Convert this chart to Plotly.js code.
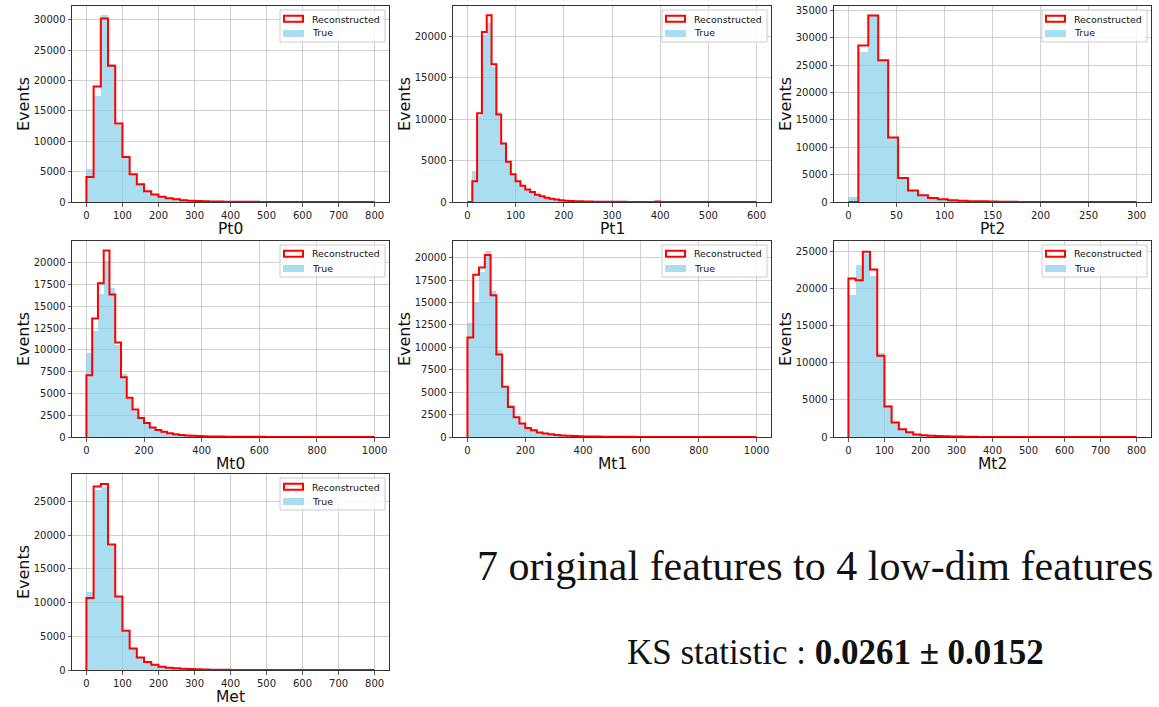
<!DOCTYPE html>
<html>
<head>
<meta charset="utf-8">
<script src="https://cdn.plot.ly/plotly-3.0.1.min.js"></script>
<style>
  html, body { margin: 0; padding: 0; background: #ffffff; }
  #chart { width: 1159px; height: 707px; }
</style>
</head>
<body>
<div id="chart"></div>
<script>
// Feature names (one histogram panel each)
const features = ['Pt0', 'Pt1', 'Pt2', 'Mt0', 'Mt1', 'Mt2', 'Met'];

// Histogram binning per feature: first edge and bin width
const binStart = [0, 0, 0, 0, 0, 0, 0];
const binWidth = [20, 10, 300 / 29, 20, 20, 20, 20];

// Event counts per bin: reconstructed vs. true
const recoPt0 = [4100, 19000, 30200, 22400, 12900, 7400, 4550, 2900, 1750, 1250, 880, 620, 440, 300, 220, 160, 120, 90, 70, 55, 45, 35, 28, 22, 16, 12, 0, 0, 0, 0, 0, 0, 0, 0, 0, 0, 0, 0, 0, 0];
const truePt0 = [5450, 17500, 30800, 22750, 12700, 7250, 4400, 2800, 1800, 1200, 850, 600, 430, 300, 210, 150, 110, 85, 65, 50, 40, 30, 25, 18, 14, 10, 8, 6, 5, 4, 3, 3, 2, 2, 1, 1, 1, 0, 0, 0];

const recoPt1 = [0, 2500, 10700, 20500, 22500, 16600, 10550, 7050, 4850, 3350, 2500, 1950, 1500, 1200, 880, 680, 520, 400, 290, 210, 160, 120, 100, 80, 65, 50, 40, 35, 30, 25, 22, 20, 18, 15, 12, 10, 0, 0, 0, 60, 0, 0, 0, 0, 0, 0, 0, 0, 0, 0, 0, 0, 0, 0, 0, 0, 0, 0, 0, 0];
const truePt1 = [0, 3700, 10400, 20100, 21600, 16300, 10850, 7000, 4800, 3300, 2450, 1900, 1450, 1150, 850, 650, 500, 380, 280, 210, 160, 120, 95, 75, 60, 48, 40, 34, 28, 24, 20, 18, 15, 13, 11, 9, 8, 7, 6, 5, 5, 4, 4, 3, 3, 3, 2, 2, 2, 2, 1, 1, 1, 1, 1, 1, 0, 0, 0, 0];

const recoPt2 = [0, 28600, 34100, 25900, 11800, 4400, 2100, 1250, 750, 500, 300, 220, 160, 120, 90, 60, 40, 0, 0, 0, 0, 0, 0, 0, 0, 0, 0, 0, 0];
const truePt2 = [900, 27500, 34000, 25800, 11700, 4300, 2000, 1150, 700, 450, 290, 210, 150, 110, 80, 60, 45, 35, 28, 22, 18, 14, 11, 9, 7, 5, 4, 3, 2];

const recoMt0 = [7080, 13600, 17650, 21400, 16350, 10850, 6850, 4500, 3150, 2180, 1600, 1100, 800, 600, 420, 320, 220, 170, 140, 120, 90, 60, 50, 45, 40, 35, 30, 28, 25, 22, 20, 0, 0, 0, 0, 0, 0, 0, 0, 0, 0, 0, 0, 0, 0, 0, 0, 0, 0, 0];
const trueMt0 = [9650, 12150, 16400, 20150, 17050, 10600, 7200, 4350, 3000, 2100, 1550, 1080, 780, 580, 410, 310, 220, 170, 135, 110, 85, 60, 50, 42, 36, 30, 26, 22, 19, 16, 14, 12, 10, 9, 8, 7, 6, 5, 5, 4, 4, 3, 3, 2, 2, 2, 1, 1, 1, 1];

const recoMt1 = [11100, 18100, 18900, 20300, 15800, 9200, 5600, 3350, 2200, 1500, 1000, 740, 490, 380, 300, 230, 180, 150, 110, 85, 65, 55, 48, 40, 35, 30, 26, 22, 20, 0, 0, 0, 0, 0, 0, 0, 0, 0, 0, 0, 0, 0, 0, 0, 0, 0, 0, 0, 0, 0];
const trueMt1 = [12700, 15100, 18450, 20800, 16300, 9750, 5500, 3570, 2150, 1450, 1050, 720, 480, 370, 290, 220, 170, 140, 105, 80, 62, 52, 44, 38, 32, 27, 23, 20, 17, 15, 13, 11, 10, 9, 8, 7, 6, 5, 5, 4, 4, 3, 3, 2, 2, 2, 1, 1, 1, 1];

const recoMt2 = [21350, 21100, 24950, 22550, 10950, 4100, 1950, 1050, 630, 320, 230, 180, 130, 100, 80, 60, 40, 25, 0, 0, 0, 0, 0, 0, 0, 0, 0, 0, 0, 0, 0, 0, 0, 0, 0, 0, 0, 0, 0, 0];
const trueMt2 = [19100, 23200, 24700, 21650, 11350, 4350, 1850, 1000, 600, 340, 240, 170, 125, 95, 75, 55, 42, 32, 25, 20, 16, 13, 10, 8, 7, 6, 5, 4, 3, 3, 2, 2, 2, 1, 1, 1, 1, 0, 0, 0];

const recoMet = [10650, 27200, 27550, 18600, 10900, 5800, 3200, 1870, 1180, 790, 490, 350, 250, 180, 130, 100, 70, 50, 35, 25, 18, 0, 0, 0, 0, 0, 0, 0, 0, 0, 0, 0, 0, 0, 0, 0, 0, 0, 0, 0];
const trueMet = [11550, 26700, 27100, 18400, 10800, 5600, 3100, 1800, 1150, 760, 480, 340, 240, 170, 125, 95, 68, 50, 36, 26, 19, 14, 11, 9, 7, 6, 5, 4, 3, 3, 2, 2, 2, 1, 1, 1, 1, 0, 0, 0];

const recoCounts = [recoPt0, recoPt1, recoPt2, recoMt0, recoMt1, recoMt2, recoMet];
const trueCounts = [truePt0, truePt1, truePt2, trueMt0, trueMt1, trueMt2, trueMet];

// Axis tick spacing per panel
const xTickStep = [100, 100, 50, 200, 200, 100, 100];
const yTickStep = [5000, 5000, 5000, 2500, 2500, 5000, 5000];

// Legend labels and side text
const recoName = 'Reconstructed';
const trueName = 'True';
const yTitle = 'Events';
const headline = '7 original features to 4 low-dim features';
const ksLabel = 'KS statistic : ';
const ksValue = '0.0261 ± 0.0152';

// ---- Layout geometry (pixels in a 1159 x 707 figure) ----
const W = 1159, H = 707;
const colPx = [[72, 389], [453, 771], [834, 1151]];
const rowPx = [[6, 202], [241, 437], [474, 670]];
const cellOf = [[0, 0], [0, 1], [0, 2], [1, 0], [1, 1], [1, 2], [2, 0]];
const xRanges = [[-40, 840], [-30, 630], [-15, 315], [-50, 1050], [-50, 1050], [-40, 840], [-40, 840]];
const yTops = [32240, 23620, 35840, 22490, 21860, 26390, 29040];

const trueFill = 'rgba(135,206,235,0.7)';
const recoLine = '#ff0000';

const px = v => v / W;          // pixel column -> paper x
const py = v => 1 - v / H;      // pixel row -> paper y

const traces = [];
const shapes = [];
const annotations = [];

const layout = {
  width: W,
  height: H,
  margin: { l: 0, r: 0, t: 0, b: 0 },
  paper_bgcolor: '#ffffff',
  plot_bgcolor: '#ffffff',
  font: { family: 'DejaVu Sans', color: '#222222' },
  barmode: 'overlay',
  bargap: 0,
  showlegend: false,
  shapes: shapes,
  annotations: annotations
};

features.forEach((name, i) => {
  const n = i + 1;
  const sfx = n === 1 ? '' : String(n);
  const xa = 'x' + sfx, ya = 'y' + sfx;
  const [r, c] = cellOf[i];

  const counts = recoCounts[i];
  const truth = trueCounts[i];
  const w = binWidth[i];
  const edges = [];
  for (let k = 0; k <= counts.length; k++) edges.push(binStart[i] + k * w);
  const centers = edges.slice(0, -1).map(e => e + w / 2);

  // true distribution: filled bars
  traces.push({
    type: 'bar', x: centers, y: truth, width: w, name: trueName,
    xaxis: xa, yaxis: ya,
    marker: { color: trueFill, line: { width: 0 } }
  });

  // reconstructed distribution: step outline
  traces.push({
    type: 'scatter', mode: 'lines',
    x: [edges[0]].concat(edges),
    y: [0].concat(counts, [0]),
    line: { shape: 'hv', color: recoLine, width: 2 },
    xaxis: xa, yaxis: ya, name: recoName
  });

  const common = {
    showgrid: true, gridcolor: '#c6c6c6', gridwidth: 0.8,
    showline: true, mirror: true, linecolor: '#333333', linewidth: 1,
    ticks: 'outside', ticklen: 3.5, tickwidth: 0.8, tickcolor: '#333333',
    tickfont: { size: 10, color: '#222222', family: 'DejaVu Sans' },
    zeroline: false, tickmode: 'linear', tick0: 0, tickformat: 'd',
    fixedrange: true
  };

  layout['xaxis' + sfx] = Object.assign({}, common, {
    domain: [px(colPx[c][0]), px(colPx[c][1])],
    range: xRanges[i],
    dtick: xTickStep[i],
    anchor: ya
  });
  layout['yaxis' + sfx] = Object.assign({}, common, {
    domain: [py(rowPx[r][1]), py(rowPx[r][0])],
    range: [0, yTops[i]],
    dtick: yTickStep[i],
    anchor: xa,
    title: { text: yTitle, font: { size: 16, color: '#111111', family: 'DejaVu Sans' }, standoff: 0 }
  });

  // feature name under the panel, kept inside the figure's lower edge
  const titleMid = Math.min(rowPx[r][1] + 27, H - 9.5);
  annotations.push({
    text: name, xref: 'paper', yref: 'paper',
    x: px((colPx[c][0] + colPx[c][1]) / 2), y: py(titleMid),
    xanchor: 'center', yanchor: 'middle', borderpad: 0,
    showarrow: false, font: { size: 15.5, color: '#111111', family: 'DejaVu Sans' }
  });

  // legend box in the upper-right corner of the panel
  const boxR = colPx[c][1] - 4, boxL = boxR - 105;
  const boxT = rowPx[r][0] + 4, boxB = boxT + 32;
  shapes.push({
    type: 'rect', xref: 'paper', yref: 'paper',
    x0: px(boxL), x1: px(boxR), y0: py(boxB), y1: py(boxT),
    fillcolor: 'rgba(255,255,255,0.8)', line: { color: '#cccccc', width: 1 }, layer: 'above'
  });
  shapes.push({
    type: 'rect', xref: 'paper', yref: 'paper',
    x0: px(boxL + 4), x1: px(boxL + 23), y0: py(boxT + 11.7), y1: py(boxT + 5.7),
    fillcolor: 'rgba(0,0,0,0)', line: { color: recoLine, width: 2 }, layer: 'above'
  });
  shapes.push({
    type: 'rect', xref: 'paper', yref: 'paper',
    x0: px(boxL + 3), x1: px(boxL + 24), y0: py(boxT + 27), y1: py(boxT + 20),
    fillcolor: trueFill, line: { width: 0 }, layer: 'above'
  });
  annotations.push({
    text: recoName, xref: 'paper', yref: 'paper',
    x: px(boxL + 30), y: py(boxT + 9), xanchor: 'left', yanchor: 'middle',
    showarrow: false, font: { size: 9.4, color: '#111111', family: 'DejaVu Sans' }
  });
  annotations.push({
    text: trueName, xref: 'paper', yref: 'paper',
    x: px(boxL + 30), y: py(boxT + 23), xanchor: 'left', yanchor: 'middle',
    showarrow: false, font: { size: 9.4, color: '#111111', family: 'DejaVu Sans' }
  });
});

annotations.push({
  text: headline, xref: 'paper', yref: 'paper',
  x: px(815), y: py(566), xanchor: 'center', yanchor: 'middle',
  showarrow: false,
  font: { family: 'Liberation Serif', size: 42, color: '#111111' }
});
annotations.push({
  text: ksLabel + '<b>' + ksValue + '</b>', xref: 'paper', yref: 'paper',
  x: px(835), y: py(652), xanchor: 'center', yanchor: 'middle',
  showarrow: false,
  font: { family: 'Liberation Serif', size: 35, color: '#111111' }
});

Plotly.newPlot('chart', traces, layout, { displayModeBar: false, staticPlot: true });
</script>
</body>
</html>
